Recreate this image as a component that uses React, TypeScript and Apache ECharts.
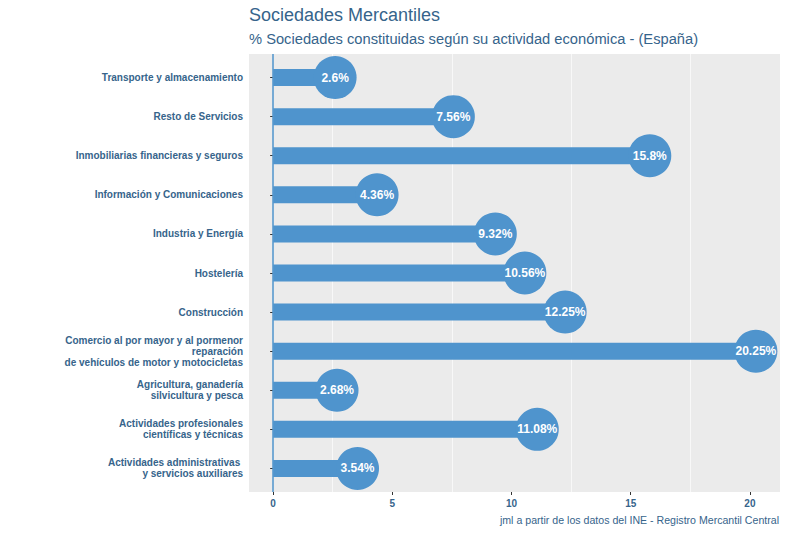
import React, { useEffect, useRef } from "react";
import * as echarts from "echarts";

const categories: string[] = [
  "Transporte y almacenamiento",
  "Resto de Servicios",
  "Inmobiliarias financieras y seguros",
  "Información y Comunicaciones",
  "Industria y Energía",
  "Hostelería",
  "Construcción",
  "Comercio al por mayor y al pormenor\nreparación\nde vehículos de motor y motocicletas",
  "Agricultura, ganadería\nsilvicultura y pesca",
  "Actividades profesionales\ncientíficas y técnicas",
  "Actividades administrativas \ny servicios auxiliares",
];

const values: number[] = [2.6, 7.56, 15.8, 4.36, 9.32, 10.56, 12.25, 20.25, 2.68, 11.08, 3.54];

const xTicks: number[] = [0, 5, 10, 15, 20];
const xMinorGrid: number[] = [2.5, 7.5, 12.5, 17.5];

const titleText = "Sociedades Mercantiles";
const subtitleText = "% Sociedades constituidas según su actividad económica - (España)";
const captionText = "jml a partir de los datos del INE - Registro Mercantil Central";

const X_MIN = -1.0125;
const X_MAX = 21.2625;

const BLUE = "#4F94CD";
const TEXT_BLUE = "#36648B";
const FONT = "'Liberation Sans', Arial, sans-serif";

export default function App() {
  const ref = useRef<HTMLDivElement>(null);

  useEffect(() => {
    if (!ref.current) return;
    const chart = echarts.init(ref.current, undefined, { renderer: "svg" });
    const option: any = {
      animation: false,
      backgroundColor: "#FFFFFF",
      textStyle: { fontFamily: FONT },
      title: [
        {
          text: titleText,
          left: 249,
          top: 6,
          padding: 0,
          textStyle: { fontSize: 18, fontWeight: "normal", color: TEXT_BLUE, fontFamily: FONT },
        },
        {
          text: subtitleText,
          left: 249,
          top: 31,
          padding: 0,
          textStyle: { fontSize: 14.7, fontWeight: "normal", color: TEXT_BLUE, fontFamily: FONT },
        },
        {
          text: captionText,
          right: 8,
          top: 514,
          padding: 0,
          textStyle: { fontSize: 10.6, fontWeight: "normal", color: TEXT_BLUE, fontFamily: FONT },
        },
      ],
      grid: [
        { left: 249, width: 531, top: 54, height: 438, show: true, backgroundColor: "#EBEBEB", borderWidth: 0 },
        { left: 249, width: 531, top: 58, height: 430, show: false },
      ],
      xAxis: [
        {
          type: "value",
          gridIndex: 0,
          min: X_MIN,
          max: X_MAX,
          axisLine: { show: false },
          splitLine: { show: false },
          axisTick: { show: true, length: 3, customValues: xTicks, lineStyle: { color: "#333333" } },
          axisLabel: {
            customValues: xTicks,
            fontSize: 10,
            fontWeight: "bold",
            color: TEXT_BLUE,
            margin: 6,
            fontFamily: FONT,
          },
        },
        {
          type: "value",
          gridIndex: 1,
          min: X_MIN,
          max: X_MAX,
          show: false,
        },
      ],
      yAxis: [
        { type: "value", gridIndex: 0, min: 0, max: 1, show: false },
        {
          type: "category",
          gridIndex: 1,
          data: categories,
          inverse: true,
          axisLine: { show: false },
          axisTick: { show: true, length: 3, alignWithLabel: true, lineStyle: { color: "#333333" } },
          splitLine: { show: false },
          axisLabel: {
            fontSize: 10,
            fontWeight: "bold",
            color: TEXT_BLUE,
            lineHeight: 11,
            margin: 6,
            align: "right",
            fontFamily: FONT,
          },
        },
      ],
      series: [
        {
          type: "scatter",
          xAxisIndex: 0,
          yAxisIndex: 0,
          data: [[0, 0.5]],
          symbolSize: 0,
          silent: true,
          z: 1,
          markLine: {
            silent: true,
            z: 1,
            symbol: ["none", "none"],
            label: { show: false },
            animation: false,
            data: xMinorGrid.map((v) => ({ xAxis: v, lineStyle: { color: "#F8F8F8", width: 1, type: "solid" } })),
          },
        },
        {
          type: "bar",
          xAxisIndex: 1,
          yAxisIndex: 1,
          data: values,
          barWidth: 17,
          itemStyle: { color: BLUE },
          z: 10,
        },
        {
          type: "scatter",
          xAxisIndex: 0,
          yAxisIndex: 0,
          data: [[0, 0.5]],
          symbolSize: 0,
          silent: true,
          z: 12,
          markLine: {
            silent: true,
            z: 12,
            symbol: ["none", "none"],
            label: { show: false },
            animation: false,
            data: [{ xAxis: 0, lineStyle: { color: BLUE, width: 1.5, type: "solid" } }],
          },
        },
        {
          type: "scatter",
          xAxisIndex: 1,
          yAxisIndex: 1,
          data: values.map((v, i) => [v, categories[i]]),
          symbol: "circle",
          symbolSize: 43,
          itemStyle: { color: BLUE, opacity: 1 },
          z: 11,
          label: {
            show: true,
            position: "inside",
            color: "#FFFFFF",
            fontSize: 12,
            fontWeight: "bold",
            fontFamily: FONT,
            formatter: (p: any) => `${p.value[0]}%`,
          },
        },
      ],
    };
    chart.setOption(option);
    return () => chart.dispose();
  }, []);

  return (
    <div
      ref={ref}
      style={{ position: "fixed", left: 0, top: 0, width: 787, height: 533, background: "#fff" }}
    />
  );
}
